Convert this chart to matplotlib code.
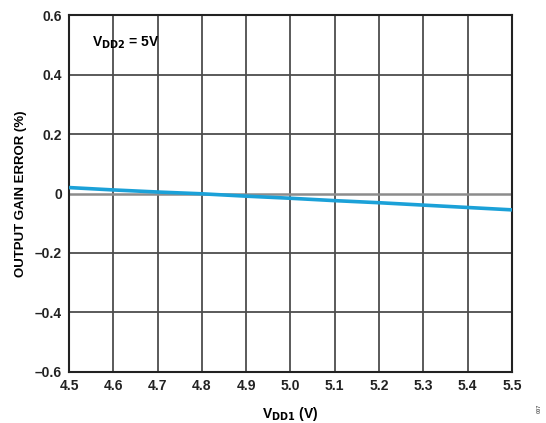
import matplotlib
matplotlib.use('Agg')
import matplotlib.pyplot as plt

# Gain error vs. supply voltage VDD1 (VDD2 = 5V)
vdd1 = [4.5, 4.6, 4.7, 4.8, 4.9, 5.0, 5.1, 5.2, 5.3, 5.4, 5.5]
gain_err = [0.020, 0.012, 0.005, -0.001, -0.009, -0.016, -0.024, -0.031, -0.039, -0.047, -0.055]

x_ticks = [4.5, 4.6, 4.7, 4.8, 4.9, 5.0, 5.1, 5.2, 5.3, 5.4, 5.5]
y_ticks = [-0.6, -0.4, -0.2, 0, 0.2, 0.4, 0.6]
y_tick_labels = ['–0.6', '–0.4', '–0.2', '0', '0.2', '0.4', '0.6']

plt.rcParams['font.family'] = ['Liberation Sans', 'DejaVu Sans']
plt.rcParams['font.weight'] = 'bold'

fig = plt.figure(figsize=(5.46, 4.23), dpi=100)
ax = fig.add_axes([0.1264, 0.1206, 0.8113, 0.8439])

# сетка
for x in x_ticks[1:-1]:
    ax.axvline(x, color='#4d4d4d', lw=1.3, zorder=1)
for y in y_ticks[1:-1]:
    if y == 0:
        ax.axhline(y, color='#8c8c8c', lw=1.8, zorder=1)
    else:
        ax.axhline(y, color='#4d4d4d', lw=1.3, zorder=1)

ax.plot(vdd1, gain_err, color='#1ba1d8', lw=2.6, zorder=3, solid_capstyle='butt')

ax.set_xlim(4.5, 5.5)
ax.set_ylim(-0.6, 0.6)
ax.set_xticks(x_ticks)
ax.set_xticklabels([f'{v:.1f}' for v in x_ticks])
ax.set_yticks(y_ticks)
ax.set_yticklabels(y_tick_labels)
ax.tick_params(length=0, labelsize=10, colors='#222222', pad=5)
for s in ax.spines.values():
    s.set_linewidth(1.5)
    s.set_color('#222222')

ax.set_xlabel('V$_{\\mathbf{DD1}}$ (V)', fontsize=10, fontweight='bold', labelpad=9)
ax.set_ylabel('OUTPUT GAIN ERROR (%)', fontsize=9.5, fontweight='bold', labelpad=6)
ax.text(4.553, 0.505, 'V$_{\\mathbf{DD2}}$ = 5V', fontsize=10, fontweight='bold', va='center')

fig.text(0.988, 0.035, '007', rotation=90, fontsize=4, color='#666666', ha='center', va='center')

fig.savefig('out.png', dpi=100)
